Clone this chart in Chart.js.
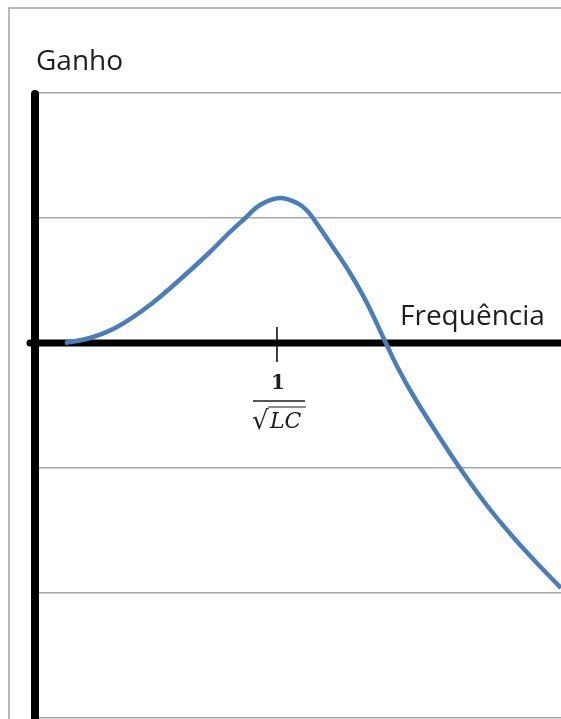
<!DOCTYPE html>
<html>
<head>
<meta charset="utf-8">
<title>Ganho x Frequência</title>
<script src="https://cdn.jsdelivr.net/npm/chart.js@4"></script>
<style>
  html, body { margin: 0; padding: 0; background: #fff; }
  canvas { display: block; }
</style>
</head>
<body>
<canvas id="gainChart" width="561" height="719"></canvas>
<script>
// frequência normalizada (1 = 1/sqrt(LC)) e ganho correspondente
const freq = [0.124, 0.227, 0.339, 0.475, 0.612, 0.723, 0.806, 0.86, 0.93, 1.012, 1.083, 1.124, 1.165, 1.231, 1.302, 1.372, 1.45, 1.5, 1.562, 1.657, 1.756, 1.868, 1.975, 2.074, 2.174];
const gain = [0, 0.04, 0.128, 0.304, 0.53, 0.728, 0.888, 0.984, 1.104, 1.16, 1.12, 1.06, 0.955, 0.768, 0.56, 0.32, 0, -0.2, -0.416, -0.71, -1.0, -1.3, -1.55, -1.76, -1.96];
const gridValues = [-3, -2, -1, 0, 1, 2];
const resonance = 1;

const points = freq.map((f, i) => ({ x: f, y: gain[i] }));

// eixos grossos, marca em 1/sqrt(LC) e textos
const axesPlugin = {
  id: "axes",
  beforeDraw(chart) {
    const ctx = chart.ctx;
    ctx.save();
    ctx.strokeStyle = "#a3a3a3";
    ctx.lineWidth = 1.5;
    ctx.strokeRect(9, 8, 600, 760);
    ctx.restore();
  },
  beforeDatasetsDraw(chart) {
    const ctx = chart.ctx;
    const x = chart.scales.x;
    const y = chart.scales.y;
    const x0 = x.getPixelForValue(0);
    const y0 = y.getPixelForValue(0);
    ctx.save();
    ctx.strokeStyle = "#000";
    ctx.lineCap = "round";
    // eixo vertical
    ctx.lineWidth = 8;
    ctx.beginPath();
    ctx.moveTo(x0, 94);
    ctx.lineTo(x0, 740);
    ctx.stroke();
    // eixo horizontal
    ctx.lineWidth = 7;
    ctx.beginPath();
    ctx.moveTo(x0 - 5, y0);
    ctx.lineTo(600, y0);
    ctx.stroke();
    // marca da frequência de ressonância
    const xr = x.getPixelForValue(resonance);
    ctx.lineCap = "butt";
    ctx.lineWidth = 1.5;
    ctx.beginPath();
    ctx.moveTo(xr, y0 - 16);
    ctx.lineTo(xr, y0 + 19);
    ctx.stroke();
    ctx.restore();
  },
  afterDraw(chart) {
    const ctx = chart.ctx;
    const x = chart.scales.x;
    const y = chart.scales.y;
    const xr = x.getPixelForValue(resonance);
    const y0 = y.getPixelForValue(0);
    ctx.save();
    ctx.fillStyle = "#1e1e1e";
    ctx.textBaseline = "alphabetic";
    ctx.font = "28px 'Open Sans', sans-serif";
    ctx.textAlign = "left";
    ctx.fillText("Ganho", 36, 70);
    ctx.fillText("Frequência", 400, 325);

    // 1 / sqrt(LC)
    ctx.textAlign = "center";
    ctx.font = "bold 20px 'DejaVu Serif', serif";
    ctx.fillText("1", xr + 1, y0 + 46);
    ctx.strokeStyle = "#1e1e1e";
    ctx.lineWidth = 1.5;
    ctx.beginPath();
    ctx.moveTo(xr - 24, y0 + 58);
    ctx.lineTo(xr + 28, y0 + 58);
    ctx.stroke();
    ctx.font = "26px 'DejaVu Serif', serif";
    ctx.textAlign = "left";
    ctx.fillText("\u221A", xr - 25, y0 + 86);
    ctx.font = "italic 22px 'DejaVu Serif', serif";
    ctx.fillText("LC", xr - 7, y0 + 85);
    ctx.lineWidth = 1.2;
    ctx.beginPath();
    ctx.moveTo(xr - 9, y0 + 64);
    ctx.lineTo(xr + 29, y0 + 64);
    ctx.stroke();
    ctx.restore();
  }
};

new Chart(document.getElementById("gainChart").getContext("2d"), {
  type: "line",
  data: {
    datasets: [
      {
        data: points,
        borderColor: "#4a7ebb",
        borderWidth: 4.5,
        pointRadius: 0,
        fill: false,
        tension: 0.35
      }
    ]
  },
  options: {
    responsive: false,
    animation: false,
    layout: { padding: { left: 35, top: 93, right: 0, bottom: 1 } },
    plugins: {
      legend: { display: false },
      tooltip: { enabled: false }
    },
    scales: {
      x: {
        type: "linear",
        min: 0,
        max: 2.174,
        display: false
      },
      y: {
        type: "linear",
        min: gridValues[0],
        max: gridValues[gridValues.length - 1],
        afterBuildTicks: (scale) => {
          scale.ticks = gridValues.map((v) => ({ value: v }));
        },
        afterFit: (scale) => {
          scale.width = 0;
        },
        ticks: { display: false },
        border: { display: false },
        grid: {
          color: "#a6a6a6",
          lineWidth: 1.5,
          drawTicks: false
        }
      }
    }
  },
  plugins: [axesPlugin]
});
</script>
</body>
</html>
